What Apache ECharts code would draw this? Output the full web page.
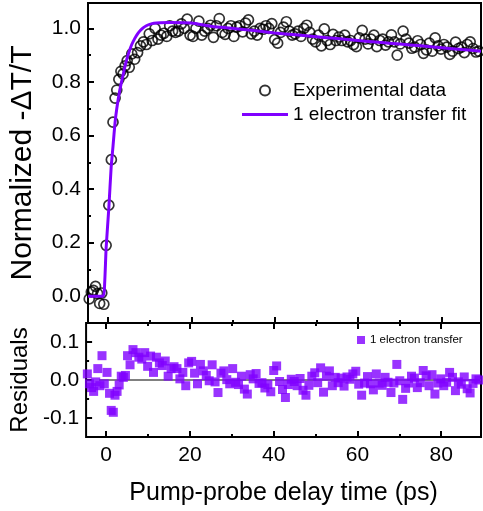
<!DOCTYPE html>
<html><head><meta charset="utf-8">
<script src="https://cdn.jsdelivr.net/npm/echarts@6/dist/echarts.min.js"></script>
<style>html,body{margin:0;padding:0;background:#fff}#c{width:483px;height:511px}</style>
</head><body><div id="c"></div>
<script>
// ---- data ----
const timeX = [-4.5,-4.0,-3.5,-3.0,-2.5,-2.0,-1.5,-1.0,-0.45,0.2,0.8,1.2,1.7,2.1,2.6,3.1,3.6,4.1,4.6,5.1,
 5.7,6.4,7.1,7.8,8.5,9.2,9.9,10.6,11.3,12.0,12.7,13.4,14.1,14.8,15.5,16.2,16.9,17.6,18.3,19.0,
 19.7,20.4,21.1,21.8,22.5,23.2,23.9,24.6,25.3,26.0,26.7,27.4,28.1,28.8,29.5,30.2,30.9,31.6,32.3,33.0,
 33.7,34.4,35.1,35.8,36.5,37.2,37.9,38.6,39.3,40.0,40.7,41.4,42.1,42.8,43.5,44.2,44.9,45.6,46.3,47.0,
 47.7,48.4,49.1,49.8,50.5,51.2,51.9,52.6,53.3,54.0,54.7,55.4,56.1,56.8,57.5,58.2,58.9,59.6,60.3,61.0,
 61.7,62.4,63.1,63.8,64.5,65.2,65.9,66.6,67.3,68.0,68.7,69.4,70.1,70.8,71.5,72.2,72.9,73.6,74.3,75.0,
 75.7,76.4,77.1,77.8,78.5,79.2,79.9,80.6,81.3,82.0,82.7,83.4,84.1,84.8,85.5,86.2,86.9,87.6,88.3,89.0];
const signalY = [-0.01,0.016,0.022,0.037,0.01,-0.027,0.012,-0.03,0.19,0.34,0.51,0.65,0.74,0.77,0.81,0.84,0.83,0.86,0.88,0.855,
 0.905,0.885,0.91,0.935,0.95,0.94,0.98,0.955,1.0,0.96,0.975,0.982,0.97,1.01,0.99,0.985,0.99,1.017,1.0,1.035,
 0.975,0.97,1.0,1.027,0.975,0.99,1.0,1.012,0.967,1.01,1.037,0.985,0.978,1.0,1.01,0.97,1.005,1.01,0.987,1.02,
 1.032,0.98,0.99,0.975,1.0,0.997,1.01,1.0,1.018,0.958,0.945,0.985,1.005,1.025,0.99,0.975,0.98,0.99,0.97,1.0,
 1.012,0.985,0.96,0.95,0.975,0.935,0.998,0.955,0.94,0.978,0.955,0.968,0.955,0.975,0.95,0.955,0.94,0.932,0.965,0.993,
 0.96,0.942,0.96,0.975,0.932,0.955,0.96,0.938,0.95,0.976,0.95,0.9,0.942,0.99,0.96,0.945,0.926,0.93,0.954,0.94,
 0.907,0.92,0.945,0.915,0.965,0.935,0.923,0.94,0.93,0.903,0.915,0.949,0.925,0.93,0.91,0.94,0.95,0.925,0.912,0.915];
const residualY = [0.016,-0.01,-0.02,-0.03,-0.005,0.03,-0.015,0.064,-0.01,0.02,-0.035,-0.08,-0.085,-0.04,-0.03,-0.013,0.01,0.007,0.012,0.064,
 0.04,0.08,0.072,0.06,0.055,0.072,0.036,0.063,0.02,0.06,0.045,0.038,0.05,0.01,0.03,0.035,0.03,0.003,0.02,-0.015,
 0.045,0.049,0.018,-0.01,0.041,0.024,0.012,-0.002,0.04,-0.005,-0.033,0.018,0.024,0.001,-0.01,0.03,-0.006,-0.012,0.01,-0.024,
 -0.037,0.014,0.003,0.017,-0.009,-0.007,-0.021,-0.012,-0.031,0.025,0.037,-0.004,-0.025,-0.046,-0.012,0.002,-0.004,-0.015,0.004,-0.027,
 -0.04,-0.014,0.01,0.019,-0.007,0.032,-0.032,0.01,0.024,-0.015,0.007,-0.007,0.005,-0.016,0.008,0.002,0.016,0.023,-0.011,-0.04,
 -0.008,0.009,-0.01,-0.026,0.016,-0.008,-0.014,0.007,-0.006,-0.033,-0.008,0.041,-0.002,-0.051,-0.022,-0.008,0.01,0.005,-0.02,-0.007,
 0.025,0.011,-0.015,0.014,-0.037,-0.008,0.003,-0.015,-0.006,0.02,0.007,-0.028,-0.005,-0.011,0.008,-0.023,-0.034,-0.009,0.003,0];
const fitX = [-4.8,-1.2,-0.8,-0.45,0.2,0.75,1.2,1.7,2.1,2.6,3.1,3.6,4.1,4.6,5.1,5.7,6.4,7.1,7.8,8.5,9.2,10,11,12.5,15,20,25,30,35,40,45,50,55,60,65,70,75,80,85,89.5];
const fitY = [0,0,0.05,0.18,0.33,0.48,0.56,0.65,0.70,0.75,0.79,0.825,0.86,0.89,0.915,0.94,0.962,0.98,0.993,1.003,1.01,1.015,1.019,1.021,1.022,1.02,1.007,1.0,0.992,0.983,0.976,0.969,0.962,0.955,0.948,0.942,0.935,0.928,0.921,0.915];
const zeroLineX = [-1.7, 89.5];
const zeroLineY = [0, 0];
const xMajorTicks = [0,20,40,60,80];
const xMinorTicks = [10,30,50,70];
const yMajorTicks = [0,0.2,0.4,0.6,0.8,1.0];
const yMinorTicks = [0.1,0.3,0.5,0.7,0.9];
const rMajorTicks = [-0.1,0,0.1];
const rMinorTicks = [-0.05,0.05];
const seriesNames = ['Experimental data','1 electron transfer fit','1 electron transfer'];
const xTitle = 'Pump-probe delay time (ps)';
const yTitle = 'Normalized -\u0394T/T';
const rTitle = 'Residuals';

// ---- chart ----
const FONT = "Arial, 'Liberation Sans', sans-serif";
const X_MIN = -4.8, X_MAX = 89.5;
const zip = (a, b) => a.map((v, i) => [v, b[i]]);

function xAx(grid, pos, ticks, len, labels, extra) {
  return Object.assign({
    type: 'value', gridIndex: grid, position: pos, min: X_MIN, max: X_MAX,
    axisLine: {show: false, onZero: false}, splitLine: {show: false},
    axisTick: {show: true, inside: true, length: len, lineStyle: {color: '#000', width: 2}, customValues: ticks},
    axisLabel: {show: labels, customValues: ticks, color: '#000', fontFamily: FONT, fontSize: 21, margin: 8}
  }, extra || {});
}
function yAx(grid, min, max, ticks, len, labels, extra) {
  return Object.assign({
    type: 'value', gridIndex: grid, position: 'left', min: min, max: max,
    axisLine: {show: false, onZero: false}, splitLine: {show: false},
    axisTick: {show: true, inside: true, length: len, lineStyle: {color: '#000', width: 2}, customValues: ticks},
    axisLabel: {show: labels, customValues: ticks, color: '#000', fontFamily: FONT, fontSize: 21, margin: 7,
      formatter: v => Number(v).toFixed(1)}
  }, extra || {});
}

const chart = echarts.init(document.getElementById('c'), null, {renderer: 'canvas'});
chart.setOption({
  animation: false,
  backgroundColor: '#fff',
  grid: [
    {left: 85, top: 3, width: 396, height: 320, show: true, borderColor: '#000', borderWidth: 2, backgroundColor: 'transparent'},
    {left: 85, top: 323, width: 396, height: 114, show: true, borderColor: '#000', borderWidth: 2, backgroundColor: 'transparent'}
  ],
  xAxis: [
    xAx(0, 'bottom', xMajorTicks, 6, false),
    xAx(0, 'bottom', xMinorTicks, 3, false),
    xAx(1, 'bottom', xMajorTicks, 6, true, {name: xTitle, nameLocation: 'middle', nameGap: 44,
      nameTextStyle: {color: '#000', fontFamily: FONT, fontSize: 25}}),
    xAx(1, 'bottom', xMinorTicks, 3, false),
    xAx(1, 'top', xMajorTicks, 6, false),
    xAx(1, 'top', xMinorTicks, 3, false)
  ],
  yAxis: [
    yAx(0, -0.1, 1.095, yMajorTicks, 6, true, {name: yTitle, nameLocation: 'middle', nameGap: 50,
      nameTextStyle: {color: '#000', fontFamily: FONT, fontSize: 30}}),
    yAx(0, -0.1, 1.095, yMinorTicks, 3, false),
    yAx(1, -0.15, 0.15, rMajorTicks, 6, true, {name: rTitle, nameLocation: 'middle', nameGap: 50,
      nameTextStyle: {color: '#000', fontFamily: FONT, fontSize: 24}}),
    yAx(1, -0.15, 0.15, rMinorTicks, 3, false)
  ],
  legend: [
    {left: 237, top: 76, orient: 'vertical', itemGap: 5, itemWidth: 46, itemHeight: 10, selectedMode: false,
      textStyle: {color: '#000', fontFamily: FONT, fontSize: 19},
      data: [{name: seriesNames[0], icon: 'circle'}, {name: seriesNames[1], icon: 'path://M0 0H46V3H0Z'}]},
    {left: 352, top: 329, orient: 'vertical', itemWidth: 8, itemHeight: 8, itemGap: 4, selectedMode: false,
      textStyle: {color: '#000', fontFamily: FONT, fontSize: 11.5},
      data: [seriesNames[2]]}
  ],
  series: [
    {name: seriesNames[0], type: 'scatter', xAxisIndex: 0, yAxisIndex: 0, symbol: 'circle', symbolSize: 10,
      itemStyle: {color: 'rgba(255,255,255,0)', borderColor: '#000', borderWidth: 1.7}, z: 2,
      data: zip(timeX, signalY)},
    {name: seriesNames[1], type: 'line', xAxisIndex: 0, yAxisIndex: 0, symbol: 'none', smooth: 0.2,
      lineStyle: {color: '#8000ff', width: 3}, itemStyle: {color: '#8000ff'}, z: 3,
      data: zip(fitX, fitY)},
    {name: 'zero', type: 'line', xAxisIndex: 2, yAxisIndex: 2, symbol: 'none',
      lineStyle: {color: '#808080', width: 2}, z: 1, data: zip(zeroLineX, zeroLineY)},
    {name: seriesNames[2], type: 'scatter', xAxisIndex: 2, yAxisIndex: 2, symbol: 'rect', symbolSize: 9,
      itemStyle: {color: '#8000ff'}, z: 2, data: zip(timeX, residualY)}
  ]
});
</script></body></html>
